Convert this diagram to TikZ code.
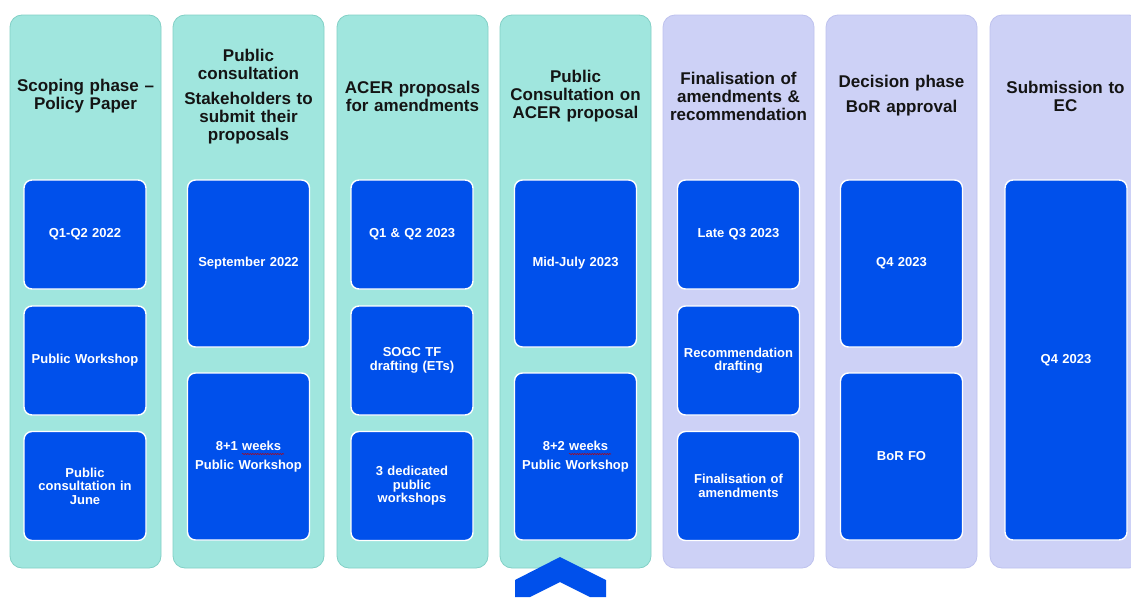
\documentclass[tikz,border=0pt]{standalone}
\usepackage{fontspec}
\setmainfont{Liberation Sans}
\usetikzlibrary{decorations.pathmorphing}
\definecolor{colTeal}{RGB}{160,230,222}
\definecolor{colTealB}{RGB}{130,208,198}
\definecolor{colLav}{RGB}{205,209,246}
\definecolor{colLavB}{RGB}{190,194,238}
\definecolor{colBlue}{RGB}{0,80,235}
\definecolor{colTxt}{RGB}{20,20,20}
\tikzset{
  colbase/.style={rectangle, rounded corners=12pt, minimum width=151pt, minimum height=553pt, inner sep=0pt, outer sep=0pt, line width=0.8pt},
  colA/.style={colbase, fill=colTeal, draw=colTealB},
  colB/.style={colbase, fill=colLav, draw=colLavB},
  title/.style={align=center, text width=148pt, font=\fontsize{17}{18}\selectfont\bfseries, text=colTxt, inner sep=0pt},
  ibox/.style={rectangle, rounded corners=8pt, minimum width=122pt, fill=colBlue, draw=white, line width=1.4pt, text=white, align=center, text width=116pt, font=\fontsize{13}{13.6}\selectfont\bfseries, inner sep=0pt},
  three/.style={minimum height=109pt},
  two/.style={minimum height=167pt},
  one/.style={minimum height=360pt},
  squig/.style={draw=red!75!black, line width=0.5pt, decorate, decoration={snake, amplitude=0.6pt, segment length=2.5pt}}
}
\begin{document}
\begin{tikzpicture}[x=1pt,y=-1pt]
\useasboundingbox[fill=white] (0,0) rectangle (1131,597);
% columns
\node[colA] (c1) at (85.5,291.5) {};
\node[colA] (c2) at (248.5,291.5) {};
\node[colA] (c3) at (412.5,291.5) {};
\node[colA] (c4) at (575.5,291.5) {};
\node[colB] (c5) at (738.5,291.5) {};
\node[colB] (c6) at (901.5,291.5) {};
\node[colB] (c7) at (1065.5,291.5) {};
% titles
\node[title] (t1) at (85.5,96) {Scoping phase –\\Policy Paper};
\node[title] (t2) at (248.5,97) {Public\\consultation\\[7pt]Stakeholders to\\submit their\\proposals};
\node[title] (t3) at (412.5,96) {ACER proposals\\for amendments};
\node[title] (t4) at (575.5,96) {Public\\Consultation on\\ACER proposal};
\node[title] (t5) at (738.5,96) {Finalisation of\\amendments \&\\recommendation};
\node[title] (t6) at (901.5,95.5) {Decision phase\\[7pt]BoR approval};
\node[title] (t7) at (1065.5,96) {Submission to\\EC};
% column 1
\node[ibox,three] (b11) at (85,234.5) {Q1-Q2 2022};
\node[ibox,three] (b12) at (85,360.5) {Public Workshop};
\node[ibox,three] (b13) at (85,486) {Public\\consultation in\\June};
% column 2
\node[ibox,two] (b21) at (248.5,263.5) {September 2022};
\node[ibox,two] (b22) at (248.5,456.5) {8+1 weeks\\[5pt]Public Workshop};
% column 3
\node[ibox,three] (b31) at (412,234.5) {Q1 \& Q2 2023};
\node[ibox,three] (b32) at (412,360.5) {SOGC TF\\drafting (ETs)};
\node[ibox,three] (b33) at (412,486) {3 dedicated\\public\\workshops};
% column 4
\node[ibox,two] (b41) at (575.5,263.5) {Mid-July 2023};
\node[ibox,two] (b42) at (575.5,456.5) {8+2 weeks\\[5pt]Public Workshop};
% column 5
\node[ibox,three] (b51) at (738.5,234.5) {Late Q3 2023};
\node[ibox,three] (b52) at (738.5,360.5) {Recommendation\\drafting};
\node[ibox,three] (b53) at (738.5,486) {Finalisation of\\amendments};
% column 6
\node[ibox,two] (b61) at (901.5,263.5) {Q4 2023};
\node[ibox,two] (b62) at (901.5,456.5) {BoR FO};
% column 7
\node[ibox,one] (b71) at (1066,360) {Q4 2023};
% spell-check underlines
\draw[squig] (242,454) -- (284,454);
\draw[squig] (569,454) -- (611,454);
% chevron
\fill[colBlue] (515,597) -- (515,580) -- (560,557) -- (606,580) -- (606,597) -- (590,597) -- (560,582) -- (530,597) -- cycle;
\end{tikzpicture}
\end{document}
